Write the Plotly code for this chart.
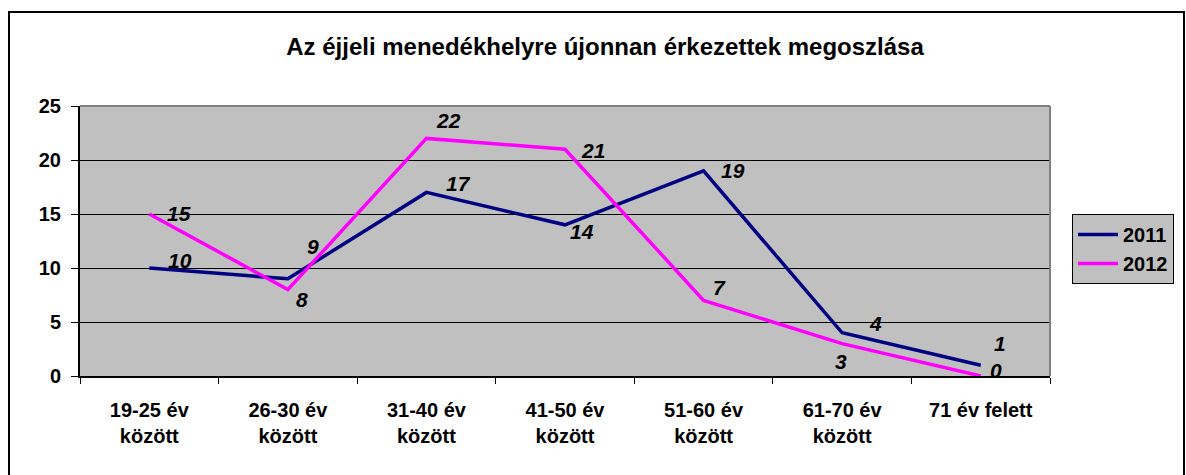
import plotly.graph_objects as go

categories = ["19-25 év<br>között", "26-30 év<br>között", "31-40 év<br>között",
              "41-50 év<br>között", "51-60 év<br>között", "61-70 év<br>között",
              "71 év felett"]
values_2011 = [10, 9, 17, 14, 19, 4, 1]
values_2012 = [15, 8, 22, 21, 7, 3, 0]
series_names = ["2011", "2012"]
colors = ["#000080", "#FF00FF"]

# label offsets in pixels (dx, dy screen; dy positive = down)
offsets_2011 = [(31, -8), (25, -32), (32, -9), (17, 7), (29, 0), (33, -9), (19, -22)]
offsets_2012 = [(30, -1), (14, 10), (22, -18), (28, 1), (16, -13), (-1, 18), (15, -6)]

FONT = "Arial, Liberation Sans, sans-serif"

fig = go.Figure()
for name, vals, col in zip(series_names, [values_2011, values_2012], colors):
    fig.add_trace(go.Scatter(x=categories, y=vals, mode="lines", name=name,
                             line=dict(color=col, width=3.5)))

annotations = []
for vals, offs in [(values_2011, offsets_2011), (values_2012, offsets_2012)]:
    for c, v, (dx, dy) in zip(categories, vals, offs):
        annotations.append(dict(x=c, y=v, xref="x", yref="y", text=str(v),
                                showarrow=False, xshift=dx, yshift=-dy,
                                font=dict(family=FONT, size=21, color="black",
                                          weight="bold", style="italic")))

fig.update_layout(
    width=1186, height=475,
    margin=dict(l=80, r=136, t=106, b=99),
    paper_bgcolor="white", plot_bgcolor="#C0C0C0",
    title=dict(text="Az éjjeli menedékhelyre újonnan érkezettek megoszlása",
               x=(605) / 1186, xanchor="center", y=1 - 47 / 475, yanchor="middle",
               font=dict(family=FONT, size=24, color="black", weight="bold")),
    legend=dict(x=(1072 - 80) / 970, xanchor="left", y=(376 - 249) / 270, yanchor="middle",
                bgcolor="#C0C0C0", bordercolor="black", borderwidth=1,
                font=dict(family=FONT, size=20, color="black", weight="bold"),
                itemwidth=40, tracegroupgap=4),
    showlegend=True,
    annotations=annotations,
)
fig.update_xaxes(type="category", tickson="boundaries", ticks="outside", ticklen=6,
                 tickcolor="black", showline=True, linecolor="black", linewidth=2,
                 showgrid=False, range=[-0.5, 6.5], ticklabelstandoff=15,
                 tickfont=dict(family=FONT, size=20, color="black", weight="bold"))
fig.update_yaxes(range=[0, 25], dtick=5, ticks="outside", ticklen=7, tickcolor="black",
                 showline=True, linecolor="black", linewidth=2,
                 showgrid=True, gridcolor="black", gridwidth=1, zeroline=False,
                 ticklabelstandoff=6,
                 tickfont=dict(family=FONT, size=20, color="black", weight="bold"))

# plot-area frame (top and right in gray) and outer chart border
fig.add_shape(type="line", xref="paper", yref="paper", x0=0, x1=1, y0=1, y1=1,
              line=dict(color="#808080", width=2), layer="above")
fig.add_shape(type="line", xref="paper", yref="paper", x0=1, x1=1, y0=0, y1=1,
              line=dict(color="#808080", width=2), layer="above")
fig.add_shape(type="rect", xref="paper", yref="paper",
              x0=(9 - 80) / 970, x1=(1184 - 80) / 970,
              y0=(376 - 480) / 270, y1=(376 - 12) / 270,
              line=dict(color="black", width=2), fillcolor="rgba(0,0,0,0)", layer="above")

fig.write_html("out.html", config={"displayModeBar": False},
               post_script="document.body.style.margin='0';")
